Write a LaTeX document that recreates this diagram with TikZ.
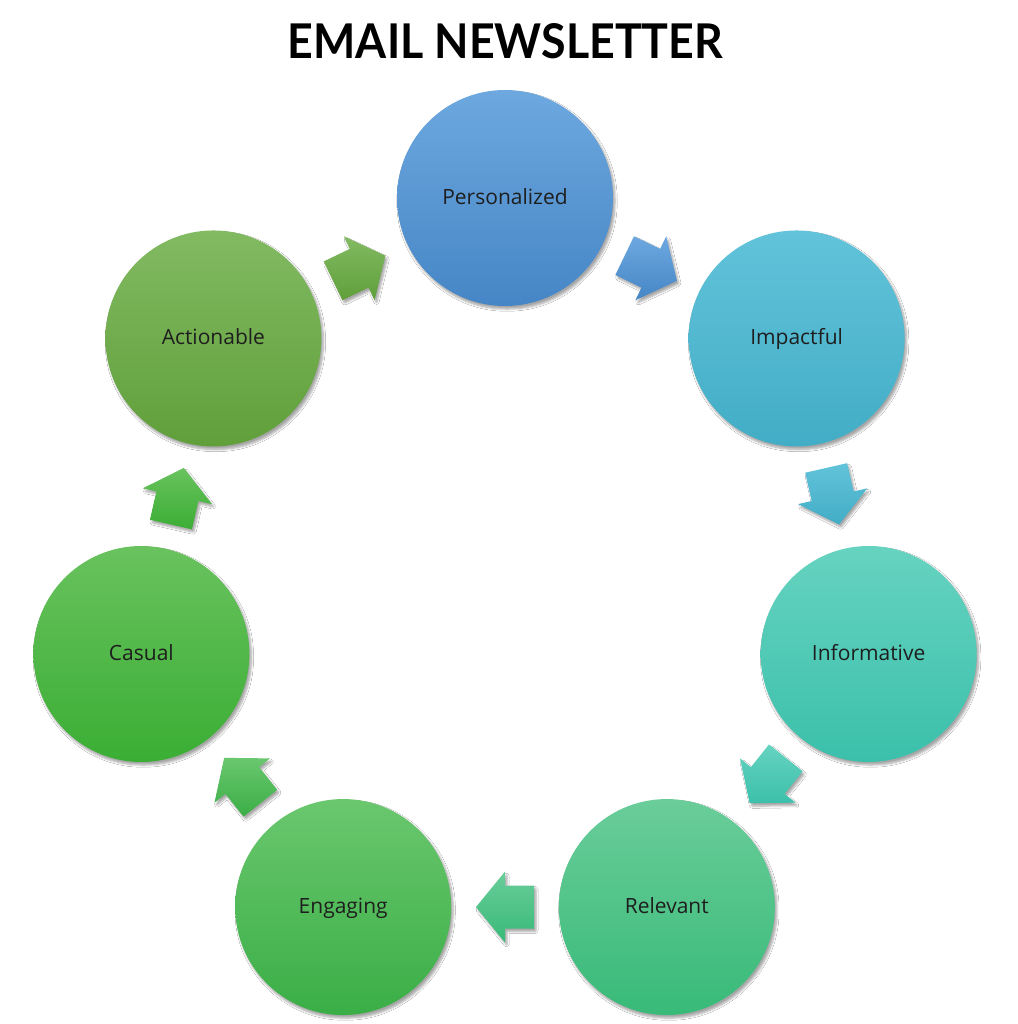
\documentclass[tikz,border=0pt]{standalone}
\usepackage{fontspec}
\setmainfont{Open Sans}
\newfontfamily\titlefont{Lato}
\usetikzlibrary{calc,shadows.blur}

\definecolor{pT}{HTML}{6DA8DF}\definecolor{pB}{HTML}{4686C6}
\definecolor{iT}{HTML}{62C3DA}\definecolor{iB}{HTML}{42ADC6}
\definecolor{nT}{HTML}{66D3C0}\definecolor{nB}{HTML}{3BC0AB}
\definecolor{rT}{HTML}{6ACD9A}\definecolor{rB}{HTML}{38BA78}
\definecolor{eT}{HTML}{6AC76E}\definecolor{eB}{HTML}{3AAE46}
\definecolor{cT}{HTML}{69C25E}\definecolor{cB}{HTML}{3AAE34}
\definecolor{aT}{HTML}{82BA62}\definecolor{aB}{HTML}{609F3A}
\definecolor{txt}{HTML}{1E1E1E}

\tikzset{
  bubble/.style n args={2}{circle, minimum size=216pt, inner sep=0pt,
    text height=15pt, text depth=2pt,
    top color=#1, bottom color=#2, draw=none,
    blur shadow={shadow xshift=2pt, shadow yshift=-3pt, shadow blur steps=6,
      shadow blur extra rounding=2pt, shadow opacity=35},
    text=txt, font=\fontsize{21}{25}\selectfont},
  blockfill/.style n args={2}{top color=#1, bottom color=#2, draw=none,
    blur shadow={shadow xshift=2pt, shadow yshift=-3pt, shadow blur steps=5,
      shadow blur extra rounding=1pt, shadow opacity=35}},
}

% #1 from node, #2 to node, #3 rotation, #4 top colour, #5 bottom colour
\newcommand\blockarrow[5]{%
  \begin{scope}[shift={($(#1)!0.5!(#2)$)}, rotate=#3]
    \path[blockfill={#4}{#5}] (-29,-21.5) -- (0,-21.5) -- (0,-35.5) -- (29,0)
      -- (0,35.5) -- (0,21.5) -- (-29,21.5) -- cycle;
  \end{scope}}

\begin{document}
\begin{tikzpicture}[x=1pt,y=1pt]
\useasboundingbox[fill=white] (0,0) rectangle (1017,-1024);
\coordinate (ring) at (505,-571);

\node[anchor=base] (title) at (505.5,-59)
  {\resizebox{435pt}{35pt}{\titlefont\bfseries EMAIL NEWSLETTER}};

\node[bubble={pT}{pB}] (pers) at ([shift={(90:373)}]ring) {Personalized};
\node[bubble={iT}{iB}] (imp)  at ([shift={(38.571:373)}]ring) {Impactful};
\node[bubble={nT}{nB}] (inf)  at ([shift={(-12.857:373)}]ring) {Informative};
\node[bubble={rT}{rB}] (rel)  at ([shift={(-64.286:373)}]ring) {Relevant};
\node[bubble={eT}{eB}] (eng)  at ([shift={(-115.714:373)}]ring) {Engaging};
\node[bubble={cT}{cB}] (cas)  at ([shift={(-167.143:373)}]ring) {Casual};
\node[bubble={aT}{aB}] (act)  at ([shift={(141.429:373)}]ring) {Actionable};

\blockarrow{pers}{imp}{-25.714}{pT}{pB}
\blockarrow{imp}{inf}{-77.143}{iT}{iB}
\blockarrow{inf}{rel}{-128.571}{nT}{nB}
\blockarrow{rel}{eng}{180}{rT}{rB}
\blockarrow{eng}{cas}{128.571}{eT}{eB}
\blockarrow{cas}{act}{77.143}{cT}{cB}
\blockarrow{act}{pers}{25.714}{aT}{aB}
\end{tikzpicture}
\end{document}
